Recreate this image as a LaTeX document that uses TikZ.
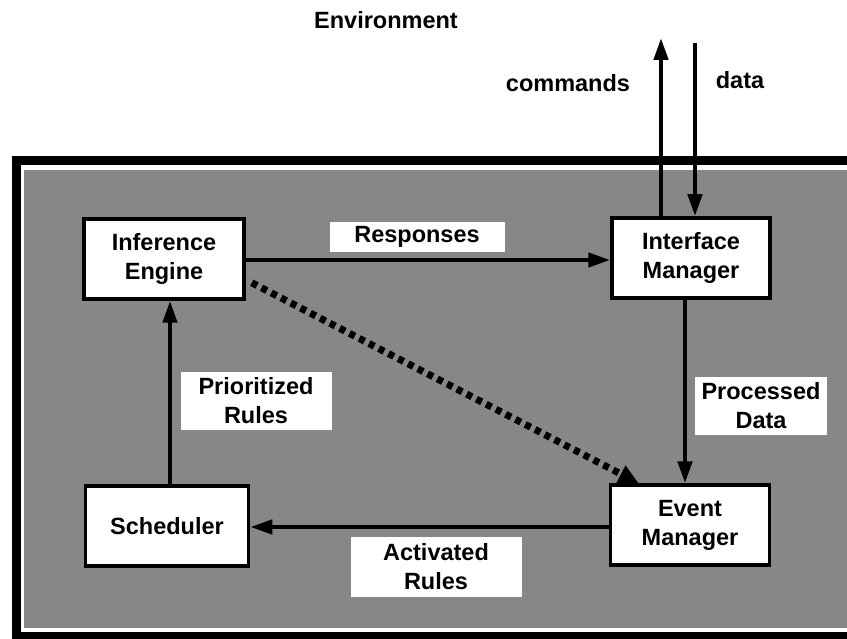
\documentclass[tikz,border=0pt]{standalone}
\usepackage{fontspec}
\setmainfont{Liberation Sans}
\usetikzlibrary{arrows.meta}
\begin{document}
\begin{tikzpicture}[x=1pt,y=-1pt,
  lbl/.style={font=\bfseries\fontsize{23.5}{29}\selectfont,align=center,inner sep=0pt},
  module/.style={lbl,draw=black,line width=3.5pt,fill=white,minimum width=#1,minimum height=80pt},
  module/.default=160pt,
  tag/.style={lbl,fill=white},
  flow/.style={line width=4.5pt,-{Triangle[length=22pt,width=14pt]}}
]
\useasboundingbox (0,0) rectangle (847,639);
% textured system area and its frame (open on the right)
\fill[black!47] (24,170) rectangle (847,628);
\draw[line width=9pt] (860,161) -- (16,161) -- (16,636) -- (860,636);

% modules
\node[module] (ie) at (164,259) {Inference\\Engine};
\node[module=158pt] (im) at (691,258) {Interface\\Manager};
\node[module=163pt] (sc) at (167,526) {Scheduler};
\node[module=159pt] (em) at (690,525) {Event\\Manager};

% environment links
\coordinate (cmdEnd) at (661,38);
\coordinate (dataStart) at (695,43);
\draw[flow] ([xshift=-30pt]im.north) -- (cmdEnd);
\draw[flow] (dataStart) -- ([xshift=4pt]im.north);

% internal flows
\draw[flow] (ie.east |- 0,260) -- (im.west |- 0,260);
\draw[flow] ([xshift=-6pt]im.south) -- ([xshift=-5pt]em.north);
\draw[flow] ([xshift=3pt]sc.north) -- ([xshift=6pt]ie.south);
\draw[flow] (em.west |- 0,527) -- (sc.east |- 0,527);
\draw[line width=7pt,dash pattern=on 6pt off 5pt,-{Triangle[length=20pt,width=18pt]}]
  ([xshift=6pt,yshift=18pt]ie.south east) -- ([xshift=30pt]em.north west);

% flow labels
\node[tag,minimum width=175pt,minimum height=30pt] (resp) at (417,237) {Responses};
\node[tag,minimum width=151pt,minimum height=57pt] (prio) at (256,401) {Prioritized\\Rules};
\node[tag,minimum width=132pt,minimum height=57pt] (proc) at (761,406) {Processed\\Data};
\node[tag,minimum width=171pt,minimum height=60pt] (act) at (436,567) {Activated\\Rules};

% environment labels
\node[lbl] (env) at (386,20) {Environment};
\node[lbl] (cmd) at (568,83) {commands};
\node[lbl] (dat) at (740,80) {data};
\end{tikzpicture}
\end{document}
